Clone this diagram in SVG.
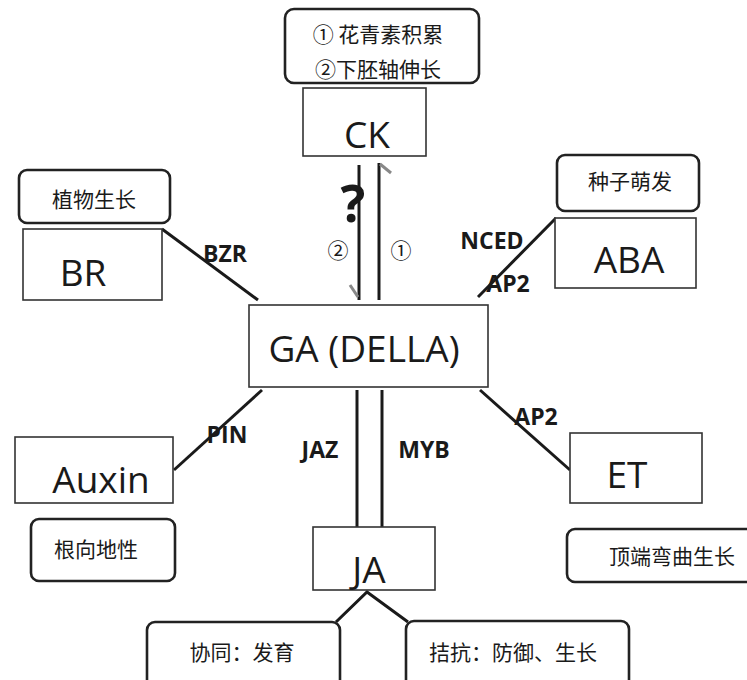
<svg xmlns="http://www.w3.org/2000/svg" width="747" height="680" viewBox="0 0 747 680">
<style>
.box{fill:#fff;stroke:#333;stroke-width:1.6}
.note{fill:#fff;stroke:#222;stroke-width:2.6}
.big{font-family:"Open Sans","Noto Sans",sans-serif;font-size:37px;fill:#1a1a1a;text-anchor:middle}
.cn{font-family:"Noto Sans CJK SC",sans-serif;font-size:21px;fill:#1a1a1a;text-anchor:middle}
.lab{font-family:"Open Sans","Noto Sans",sans-serif;font-size:23px;font-weight:bold;fill:#1a1a1a;text-anchor:middle}
.ln{stroke:#1a1a1a;stroke-width:3;fill:none}
.tick{stroke:#888;stroke-width:3;fill:none}
</style>
<rect width="747" height="680" fill="#fff"/>
<g id="connectors">
<line class="ln" x1="359" y1="165" x2="359" y2="300"/>
<line class="ln" x1="379" y1="163" x2="379" y2="300"/>
<line class="tick" x1="380" y1="164" x2="391" y2="173"/>
<line class="tick" x1="358" y1="297" x2="350" y2="285"/>
<line class="ln" x1="162" y1="229" x2="258" y2="300"/>
<line class="ln" x1="556" y1="218" x2="478" y2="297"/>
<line class="ln" x1="262" y1="390" x2="174" y2="470"/>
<line class="ln" x1="480" y1="390" x2="570" y2="470"/>
<line class="ln" x1="357" y1="390" x2="357" y2="527"/>
<line class="ln" x1="382" y1="390" x2="382" y2="527"/>
<polyline class="ln" points="336,622 367,592 408,622"/>
<text class="lab" x="225" y="262">BZR</text>
<text class="lab" x="492" y="249">NCED</text>
<text class="lab" x="508" y="292">AP2</text>
<text class="lab" x="227" y="443">PIN</text>
<text class="lab" x="536" y="425">AP2</text>
<text class="lab" x="320" y="458">JAZ</text>
<text class="lab" x="424" y="458">MYB</text>
<text x="353" y="222" font-family="Open Sans, Noto Sans, sans-serif" font-size="52" font-weight="bold" fill="#1a1a1a" text-anchor="middle">?</text>
<text class="cn" x="338" y="258" font-size="23">②</text>
<text class="cn" x="401" y="258" font-size="23">①</text>
</g>
<g id="note-ck">
<rect class="note" x="285" y="9" width="194" height="74" rx="9"/>
<text class="cn" x="378" y="42" font-size="20">①  花青素积累</text>
<text class="cn" x="378" y="77" font-size="20">②下胚轴伸长</text>
</g>
<g id="node-ck">
<rect class="box" x="303" y="88" width="123" height="68"/>
<text class="big" x="367" y="148" font-size="40">CK</text>
</g>
<g id="note-br">
<rect class="note" x="19" y="170" width="151" height="53" rx="8"/>
<text class="cn" x="94" y="207">植物生长</text>
</g>
<g id="node-br">
<rect class="box" x="23" y="229" width="139" height="71"/>
<text class="big" x="83" y="286">BR</text>
</g>
<g id="note-aba">
<rect class="note" x="557" y="155" width="142" height="56" rx="8"/>
<text class="cn" x="630" y="189">种子萌发</text>
</g>
<g id="node-aba">
<rect class="box" x="555" y="218" width="141" height="70"/>
<text class="big" x="629" y="273">ABA</text>
</g>
<g id="node-ga">
<rect class="box" x="249" y="305" width="239" height="82"/>
<text class="big" x="364" y="362" font-size="39">GA (DELLA)</text>
</g>
<g id="node-auxin">
<rect class="box" x="15" y="437" width="158" height="66"/>
<text class="big" x="101" y="493">Auxin</text>
</g>
<g id="note-auxin">
<rect class="note" x="31" y="519" width="144" height="62" rx="8"/>
<text class="cn" x="96" y="557">根向地性</text>
</g>
<g id="node-et">
<rect class="box" x="570" y="433" width="132" height="70"/>
<text class="big" x="627" y="488">ET</text>
</g>
<g id="note-et">
<rect class="note" x="567" y="529" width="190" height="53" rx="8"/>
<text class="cn" x="672" y="564">顶端弯曲生长</text>
</g>
<g id="node-ja">
<rect class="box" x="313" y="527" width="122" height="63"/>
<text class="big" x="369" y="583">JA</text>
</g>
<g id="note-syn">
<rect class="note" x="147" y="622" width="193" height="70" rx="8"/>
<text class="cn" x="242" y="660">协同：发育</text>
</g>
<g id="note-ant">
<rect class="note" x="406" y="621" width="223" height="71" rx="8"/>
<text class="cn" x="513" y="660">拮抗：防御、生长</text>
</g>
</svg>
